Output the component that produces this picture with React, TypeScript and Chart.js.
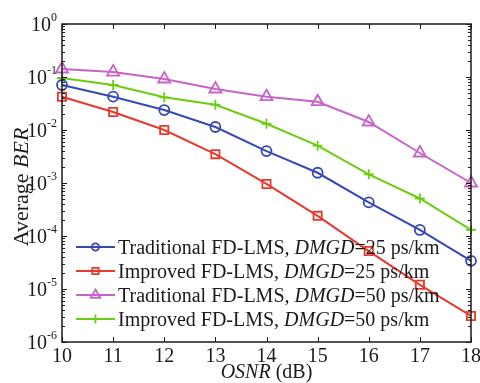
import React, { useEffect, useRef } from 'react';
import { Chart, registerables } from 'chart.js';

Chart.register(...registerables);

const osnr = [10, 11, 12, 13, 14, 15, 16, 17, 18];
const tradFD25 = [0.0707, 0.0425, 0.0238, 0.0114, 0.004, 0.00156, 4.3e-4, 1.3e-4, 3.4e-5];
const impFD25 = [0.0425, 0.0219, 0.01, 0.0035, 9.6e-4, 2.4e-4, 5.2e-5, 1.2e-5, 3.1e-6];
const tradFD50 = [0.1416, 0.124, 0.0917, 0.0594, 0.0425, 0.0342, 0.01415, 0.00368, 1.0e-3];
const impFD50 = [0.0957, 0.0707, 0.0414, 0.03, 0.0131, 0.00506, 0.00146, 5.1e-4, 1.3e-4];

const xTicks = [10, 11, 12, 13, 14, 15, 16, 17, 18];
const yTickExps = [0, -1, -2, -3, -4, -5, -6];

const legendPrefix = ['Traditional FD-LMS, ', 'Improved FD-LMS, ', 'Traditional FD-LMS, ', 'Improved FD-LMS, '];
const legendItalic = ['DMGD', 'DMGD', 'DMGD', 'DMGD'];
const legendSuffix = ['=25 ps/km', '=25 ps/km', '=50 ps/km', '=50 ps/km'];

const xTitleItalic = 'OSNR';
const xTitleRest = ' (dB)';
const yTitleRest = 'Average ';
const yTitleItalic = 'BER';

const colors = ['#3549b3', '#e53a2e', '#c864c8', '#6ccc14'];
const styles = ['circle', 'rect', 'triangle', 'cross'];
const radii = [5, 5.8, 7, 5];
const legendRadii = [3.6, 4.5, 5.5, 4.5];

const FONT = '"Liberation Serif", "Times New Roman", serif';

function drawMarker(ctx: CanvasRenderingContext2D, style: string, x: number, y: number, r: number, color: string) {
  ctx.save();
  ctx.strokeStyle = color;
  ctx.lineWidth = 1.8;
  ctx.beginPath();
  if (style === 'circle') {
    ctx.arc(x, y, r, 0, Math.PI * 2);
  } else if (style === 'rect') {
    const s = r * Math.SQRT1_2;
    ctx.rect(x - s, y - s, 2 * s, 2 * s);
  } else if (style === 'triangle') {
    ctx.moveTo(x, y - r);
    ctx.lineTo(x + r * Math.sin(Math.PI / 3), y + r * 0.5);
    ctx.lineTo(x - r * Math.sin(Math.PI / 3), y + r * 0.5);
    ctx.closePath();
  } else {
    ctx.moveTo(x - r, y);
    ctx.lineTo(x + r, y);
    ctx.moveTo(x, y - r);
    ctx.lineTo(x, y + r);
  }
  ctx.stroke();
  ctx.restore();
}

const decorPlugin = {
  id: 'decor',
  afterDraw(chart: any) {
    const ctx: CanvasRenderingContext2D = chart.ctx;
    const xs = chart.scales.x;
    const ys = chart.scales.y;
    const { left, right, top, bottom } = chart.chartArea;
    ctx.save();
    ctx.strokeStyle = '#1a1a1a';
    ctx.lineWidth = 1.5;
    ctx.strokeRect(left, top, right - left, bottom - top);

    ctx.lineWidth = 1;
    ctx.beginPath();
    for (const v of xTicks) {
      const px = Math.round(xs.getPixelForValue(v)) + 0.5;
      ctx.moveTo(px, bottom);
      ctx.lineTo(px, bottom - 5);
      ctx.moveTo(px, top);
      ctx.lineTo(px, top + 5);
    }
    for (const e of yTickExps) {
      const py = Math.round(ys.getPixelForValue(Math.pow(10, e))) + 0.5;
      ctx.moveTo(left, py);
      ctx.lineTo(left + 5, py);
      ctx.moveTo(right, py);
      ctx.lineTo(right - 5, py);
      if (e > -6) {
        for (let k = 2; k <= 9; k++) {
          const pm = Math.round(ys.getPixelForValue(k * Math.pow(10, e - 1))) + 0.5;
          ctx.moveTo(left, pm);
          ctx.lineTo(left + 3, pm);
          ctx.moveTo(right, pm);
          ctx.lineTo(right - 3, pm);
        }
      }
    }
    ctx.stroke();

    ctx.fillStyle = '#1a1a1a';
    ctx.textBaseline = 'alphabetic';
    ctx.font = `20px ${FONT}`;
    ctx.textAlign = 'center';
    for (const v of xTicks) {
      ctx.fillText(String(v), xs.getPixelForValue(v), 362);
    }
    for (const e of yTickExps) {
      const py = ys.getPixelForValue(Math.pow(10, e));
      const sup = e === 0 ? '0' : '-' + String(-e);
      ctx.font = `12px ${FONT}`;
      const supW = ctx.measureText(sup).width;
      const xr = 57;
      ctx.textAlign = 'left';
      ctx.fillText(sup, xr - supW, py - 3);
      ctx.font = `20px ${FONT}`;
      ctx.textAlign = 'right';
      ctx.fillText('10', xr - supW, py + 6.5);
    }

    ctx.textAlign = 'left';
    ctx.font = `italic 20px ${FONT}`;
    const wi = ctx.measureText(xTitleItalic).width;
    ctx.font = `20px ${FONT}`;
    const wr = ctx.measureText(xTitleRest).width;
    const cx = (left + right) / 2;
    const sx = cx - (wi + wr) / 2;
    ctx.font = `italic 20px ${FONT}`;
    ctx.fillText(xTitleItalic, sx, 378);
    ctx.font = `20px ${FONT}`;
    ctx.fillText(xTitleRest, sx + wi, 378);

    ctx.save();
    ctx.translate(28, (top + bottom) / 2 + 4);
    ctx.rotate(-Math.PI / 2);
    ctx.font = `22px ${FONT}`;
    const yr = ctx.measureText(yTitleRest).width;
    ctx.font = `italic 22px ${FONT}`;
    const yi = ctx.measureText(yTitleItalic).width;
    const sy = -(yr + yi) / 2;
    ctx.font = `22px ${FONT}`;
    ctx.fillText(yTitleRest, sy, 0);
    ctx.font = `italic 22px ${FONT}`;
    ctx.fillText(yTitleItalic, sy + yr, 0);
    ctx.restore();

    const rowY = [247, 271, 295, 319];
    for (let i = 0; i < 4; i++) {
      const y = rowY[i];
      ctx.strokeStyle = colors[i];
      ctx.lineWidth = 2;
      ctx.beginPath();
      ctx.moveTo(76, y);
      ctx.lineTo(115, y);
      ctx.stroke();
      drawMarker(ctx, styles[i], 95.5, y, legendRadii[i], colors[i]);
      ctx.fillStyle = '#1a1a1a';
      ctx.textAlign = 'left';
      let tx = 118;
      ctx.font = `20px ${FONT}`;
      ctx.fillText(legendPrefix[i], tx, y + 6.5);
      tx += ctx.measureText(legendPrefix[i]).width;
      ctx.font = `italic 20px ${FONT}`;
      ctx.fillText(legendItalic[i], tx, y + 6.5);
      tx += ctx.measureText(legendItalic[i]).width;
      ctx.font = `20px ${FONT}`;
      ctx.fillText(legendSuffix[i], tx, y + 6.5);
    }
    ctx.restore();
  },
};

export default function App() {
  const ref = useRef<HTMLCanvasElement | null>(null);
  useEffect(() => {
    if (!ref.current) return;
    const series = [tradFD25, impFD25, tradFD50, impFD50];
    const chart = new Chart(ref.current, {
      type: 'line',
      data: {
        datasets: series.map((s, i) => ({
          label: legendPrefix[i] + legendItalic[i] + legendSuffix[i],
          data: osnr.map((x, j) => ({ x, y: s[j] })),
          borderColor: colors[i],
          backgroundColor: 'rgba(0,0,0,0)',
          borderWidth: 2,
          pointStyle: styles[i] as any,
          pointRadius: radii[i],
          pointBorderWidth: 1.8,
          pointBorderColor: colors[i],
          pointBackgroundColor: 'rgba(0,0,0,0)',
          tension: 0,
          clip: false as any,
        })),
      },
      options: {
        animation: false,
        responsive: true,
        maintainAspectRatio: false,
        layout: { padding: { left: 62, top: 24, right: 9, bottom: 41 } },
        plugins: { legend: { display: false }, tooltip: { enabled: false } },
        scales: {
          x: { type: 'linear', display: false, min: 10, max: 18 },
          y: { type: 'logarithmic', display: false, min: 1e-6, max: 1 },
        },
      },
      plugins: [decorPlugin],
    });
    return () => chart.destroy();
  }, []);
  return (
    <div style={{ position: 'fixed', left: 0, top: 0, width: 480, height: 383, background: '#fff' }}>
      <canvas ref={ref} />
    </div>
  );
}
